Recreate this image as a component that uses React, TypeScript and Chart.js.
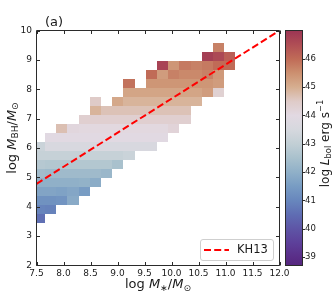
import React, { useEffect, useRef } from 'react';
import { Chart, registerables } from 'chart.js';
Chart.register(...registerables);

const _ = null;

// bin edges of the 2D histogram
const xBinEdges = [7.450, 7.657, 7.865, 8.072, 8.280, 8.487, 8.694, 8.902, 9.109, 9.317, 9.524, 9.731, 9.939, 10.146, 10.354, 10.561, 10.768, 10.976, 11.183];
const yBinEdges = [3.436, 3.743, 4.050, 4.357, 4.664, 4.971, 5.278, 5.585, 5.892, 6.199, 6.506, 6.813, 7.120, 7.427, 7.734, 8.041, 8.348, 8.655, 8.962, 9.269, 9.576];

// mean log L_bol per cell, rows from bottom (low M_BH) to top
const lbolGrid: (number | null)[][] = [
  [40.55],
  [40.95, 40.9],
  [41.25, 41.25, 41.3, 41.85],
  [41.7, 41.7, 41.65, 41.75, 41.5],
  [42.0, 42.0, 42.0, 42.0, 42.05, 41.9],
  [42.35, 42.3, 42.3, 42.3, 42.3, 42.3, 42.2],
  [42.75, 42.7, 42.7, 42.7, 42.7, 42.7, 42.7, 42.5],
  [43.1, 43.1, 43.1, 43.1, 43.1, 43.1, 43.1, 43.1, 43.2],
  [43.2, 43.6, 43.6, 43.6, 43.6, 43.6, 43.6, 43.6, 43.6, 43.6, 43.6],
  [_, 43.95, 43.95, 43.95, 43.95, 43.95, 43.95, 43.95, 43.95, 43.95, 43.95, 43.95],
  [_, _, 44.7, 44.1, 44.05, 44.05, 44.05, 44.05, 44.05, 44.05, 44.05, 44.05, 44.2],
  [_, _, _, _, 44.35, 44.35, 44.35, 44.35, 44.35, 44.35, 44.35, 44.35, 44.35, 44.35],
  [_, _, _, _, _, 44.9, 44.65, 44.65, 44.65, 44.65, 44.65, 44.65, 44.65, 44.65],
  [_, _, _, _, _, 44.5, _, 45.1, 44.9, 44.9, 44.9, 44.9, 44.9, 44.9, 44.9],
  [_, _, _, _, _, _, _, _, 45.15, 45.15, 45.15, 45.15, 45.15, 45.15, 45.15, 45.3, 44.3],
  [_, _, _, _, _, _, _, _, 45.9, _, 45.4, 45.4, 45.4, 45.4, 45.4, 45.4, 45.3],
  [_, _, _, _, _, _, _, _, _, _, 46.0, 45.3, 45.7, 45.6, 45.6, 45.7, 45.35],
  [_, _, _, _, _, _, _, _, _, _, _, 46.7, 45.4, 45.8, 45.7, 45.8, 46.0, 46.0],
  [_, _, _, _, _, _, _, _, _, _, _, _, _, _, _, 46.8, 46.6, 46.2],
  [_, _, _, _, _, _, _, _, _, _, _, _, _, _, _, _, 45.7],
];

const xTickValues = [7.5, 8.0, 8.5, 9.0, 9.5, 10.0, 10.5, 11.0, 11.5, 12.0];
const xTickLabels = ['7.5', '8.0', '8.5', '9.0', '9.5', '10.0', '10.5', '11.0', '11.5', '12.0'];
const yTickValues = [2, 3, 4, 5, 6, 7, 8, 9, 10];
const yTickLabels = ['2', '3', '4', '5', '6', '7', '8', '9', '10'];
const cbTickValues = [39, 40, 41, 42, 43, 44, 45, 46];
const cbTickLabels = ['39', '40', '41', '42', '43', '44', '45', '46'];
const cbMin = 38.7;
const cbMax = 47.0;

// KH13 relation
const kh13X = [7.5, 12.0];
const kh13Y = [4.78, 10.0];
const kh13Label = 'KH13';
const panelLabel = '(a)';

// colormap (twilight_shifted-like)
const cmapStops: [number, string][] = [
  [38.7, '#55267e'], [39.0, '#5a2e88'], [39.5, '#5d409a'], [40.0, '#5e55a6'],
  [40.5, '#5f6db3'], [41.0, '#6887bd'], [41.5, '#789cc3'], [42.0, '#90b0c8'],
  [42.5, '#a9c1cd'], [43.0, '#c2cfd5'], [43.5, '#d6d8de'], [44.0, '#e2d9e2'],
  [44.5, '#dfcbc8'], [45.0, '#d6ae90'], [45.5, '#cc9070'], [46.0, '#c06b57'],
  [46.5, '#b04e55'], [47.0, '#9c3554'],
];

const FONT = '"DejaVu Sans", sans-serif';
const TEXT = '#1a1a1a';
const SPINE = '#2b2b2b';

function hexToRgb(h: string) {
  return [parseInt(h.slice(1, 3), 16), parseInt(h.slice(3, 5), 16), parseInt(h.slice(5, 7), 16)];
}
function cmap(v: number) {
  if (v <= cmapStops[0][0]) return cmapStops[0][1];
  for (let i = 1; i < cmapStops.length; i++) {
    const [v1, c1] = cmapStops[i];
    if (v <= v1) {
      const [v0, c0] = cmapStops[i - 1];
      const t = (v - v0) / (v1 - v0);
      const a = hexToRgb(c0), b = hexToRgb(c1);
      const r = a.map((x, k) => Math.round(x + (b[k] - x) * t));
      return `rgb(${r[0]},${r[1]},${r[2]})`;
    }
  }
  return cmapStops[cmapStops.length - 1][1];
}

type Seg = { t: string; it?: boolean; sc?: number; dy?: number };
function drawRich(ctx: CanvasRenderingContext2D, segs: Seg[], size: number, x: number, y: number, rot: number) {
  ctx.save();
  ctx.translate(x, y);
  ctx.rotate(rot);
  ctx.textBaseline = 'alphabetic';
  ctx.textAlign = 'left';
  ctx.fillStyle = TEXT;
  const fontOf = (s: Seg) => `${s.it ? 'italic ' : ''}${(s.sc || 1) * size}px ${FONT}`;
  let total = 0;
  const ws = segs.map((s) => {
    ctx.font = fontOf(s);
    const w = ctx.measureText(s.t).width;
    total += w;
    return w;
  });
  let cx = -total / 2;
  segs.forEach((s, i) => {
    ctx.font = fontOf(s);
    ctx.fillText(s.t, cx, (s.dy || 0) * size);
    cx += ws[i];
  });
  ctx.restore();
}

const heatmapPlugin = {
  id: 'heatmap',
  beforeDatasetsDraw(chart: any) {
    const { ctx, chartArea, scales } = chart;
    const xs = scales.x, ys = scales.y;
    ctx.save();
    ctx.beginPath();
    ctx.rect(chartArea.left, chartArea.top, chartArea.right - chartArea.left, chartArea.bottom - chartArea.top);
    ctx.clip();
    lbolGrid.forEach((row, j) => {
      row.forEach((v, k) => {
        if (v == null) return;
        const x0 = Math.round(xs.getPixelForValue(xBinEdges[k]));
        const x1 = Math.round(xs.getPixelForValue(xBinEdges[k + 1]));
        const y0 = Math.round(ys.getPixelForValue(yBinEdges[j + 1]));
        const y1 = Math.round(ys.getPixelForValue(yBinEdges[j]));
        ctx.fillStyle = cmap(v);
        ctx.fillRect(x0, y0, x1 - x0, y1 - y0);
      });
    });
    ctx.restore();
  },
};

const framePlugin = {
  id: 'frame',
  afterDatasetsDraw(chart: any) {
    const { ctx, chartArea, scales } = chart;
    const l = Math.floor(chartArea.left) + 0.5;
    const r = Math.floor(chartArea.right) + 0.5;
    const t = Math.floor(chartArea.top) + 0.5;
    const b = Math.floor(chartArea.bottom) + 0.5;
    ctx.save();
    ctx.strokeStyle = SPINE;
    ctx.lineWidth = 1;
    ctx.beginPath();
    ctx.rect(l, t, r - l, b - t);
    const tl = 3.5;
    yTickValues.forEach((v) => {
      const py = Math.round(scales.y.getPixelForValue(v)) + 0.5;
      ctx.moveTo(l, py); ctx.lineTo(l + tl, py);
      ctx.moveTo(r, py); ctx.lineTo(r - tl, py);
    });
    xTickValues.forEach((v) => {
      const px = Math.round(scales.x.getPixelForValue(v)) + 0.5;
      ctx.moveTo(px, b); ctx.lineTo(px, b - tl);
      ctx.moveTo(px, t); ctx.lineTo(px, t + tl);
    });
    ctx.stroke();
    ctx.restore();

    // legend
    const ds = chart.data.datasets[0];
    ctx.save();
    const bx = 200.5, by = 239.5, bw = 73, bh = 21, rad = 2.5;
    ctx.beginPath();
    ctx.moveTo(bx + rad, by);
    ctx.arcTo(bx + bw, by, bx + bw, by + bh, rad);
    ctx.arcTo(bx + bw, by + bh, bx, by + bh, rad);
    ctx.arcTo(bx, by + bh, bx, by, rad);
    ctx.arcTo(bx, by, bx + bw, by, rad);
    ctx.closePath();
    ctx.fillStyle = 'rgba(255,255,255,0.85)';
    ctx.fill();
    ctx.strokeStyle = '#cfcfcf';
    ctx.lineWidth = 1;
    ctx.stroke();
    ctx.beginPath();
    ctx.strokeStyle = ds.borderColor;
    ctx.lineWidth = ds.borderWidth;
    ctx.setLineDash(ds.borderDash);
    ctx.moveTo(204, 250);
    ctx.lineTo(229, 250);
    ctx.stroke();
    ctx.setLineDash([]);
    ctx.fillStyle = TEXT;
    ctx.font = `11.5px ${FONT}`;
    ctx.textBaseline = 'middle';
    ctx.textAlign = 'left';
    ctx.fillText(ds.label, 237, 250);
    ctx.restore();
  },
};

const decorPlugin = {
  id: 'decor',
  afterDraw(chart: any) {
    const { ctx, chartArea, scales } = chart;
    const cb = scales.cb;
    const ytop = cb.getPixelForValue(cbMax);
    const ybot = cb.getPixelForValue(cbMin);
    const cx0 = 286, cx1 = 302;
    ctx.save();
    const g = ctx.createLinearGradient(0, ybot, 0, ytop);
    cmapStops.forEach(([v, c]) => g.addColorStop((v - cbMin) / (cbMax - cbMin), c));
    ctx.fillStyle = g;
    ctx.fillRect(cx0, ytop, cx1 - cx0, ybot - ytop);
    ctx.strokeStyle = SPINE;
    ctx.lineWidth = 1;
    ctx.strokeRect(cx0 - 0.5, Math.floor(ytop) + 0.5, cx1 - cx0 + 1, Math.floor(ybot) - Math.floor(ytop));
    ctx.beginPath();
    cbTickValues.forEach((v) => {
      const py = Math.round(cb.getPixelForValue(v)) + 0.5;
      ctx.moveTo(cx1 + 0.5, py);
      ctx.lineTo(cx1 + 3, py);
    });
    ctx.stroke();

    // panel label
    ctx.fillStyle = TEXT;
    ctx.font = `13px ${FONT}`;
    ctx.textAlign = 'left';
    ctx.textBaseline = 'alphabetic';
    ctx.fillText(panelLabel, 45, 26);
    ctx.restore();

    // axis titles
    const midX = (chartArea.left + chartArea.right) / 2;
    drawRich(ctx, [
      { t: 'log ' }, { t: 'M', it: true }, { t: '∗', sc: 0.7, dy: 0.22 }, { t: '/' },
      { t: 'M', it: true }, { t: '⊙', sc: 0.7, dy: 0.22 },
    ], 13, midX, 288, 0);
    drawRich(ctx, [
      { t: 'log ' }, { t: 'M', it: true }, { t: 'BH', sc: 0.7, dy: 0.22 }, { t: '/' },
      { t: 'M', it: true }, { t: '⊙', sc: 0.7, dy: 0.22 },
    ], 13, 15.5, 138, -Math.PI / 2);
    drawRich(ctx, [
      { t: 'log ' }, { t: 'L', it: true }, { t: 'bol', sc: 0.7, dy: 0.22 }, { t: ' erg s' },
      { t: '−1', sc: 0.7, dy: -0.42 },
    ], 12, 328.5, 143.5, -Math.PI / 2);
  },
};

export default function App() {
  const ref = useRef<HTMLCanvasElement | null>(null);
  useEffect(() => {
    if (!ref.current) return;
    const chart = new Chart(ref.current, {
      type: 'scatter',
      data: {
        datasets: [
          {
            label: kh13Label,
            data: kh13X.map((x, i) => ({ x, y: kh13Y[i] })),
            showLine: true,
            borderColor: '#ff0000',
            borderWidth: 2,
            borderDash: [7, 3.2],
            pointRadius: 0,
            fill: false,
            xAxisID: 'x',
            yAxisID: 'y',
          } as any,
        ],
      },
      options: {
        animation: false,
        responsive: false,
        devicePixelRatio: 1,
        layout: { padding: { top: 5.3, right: 0, bottom: 0, left: 0 } },
        plugins: { legend: { display: false }, tooltip: { enabled: false } },
        scales: {
          x: {
            type: 'linear',
            position: 'bottom',
            min: 7.5,
            max: 12,
            grid: { display: false, drawTicks: false },
            border: { display: false },
            afterBuildTicks: (s: any) => { s.ticks = xTickValues.map((v) => ({ value: v })); },
            afterFit: (s: any) => { s.height = 30; },
            ticks: {
              autoSkip: false, maxRotation: 0, minRotation: 0, padding: 3,
              color: TEXT, font: { family: FONT, size: 9 },
              callback: (_v: any, i: number) => xTickLabels[i],
            },
          },
          y: {
            type: 'linear',
            position: 'left',
            min: 2,
            max: 10,
            grid: { display: false, drawTicks: false },
            border: { display: false },
            afterBuildTicks: (s: any) => { s.ticks = yTickValues.map((v) => ({ value: v })); },
            afterFit: (s: any) => { s.width = 36.5; },
            ticks: {
              autoSkip: false, padding: 4.5,
              color: TEXT, font: { family: FONT, size: 9 },
              callback: (_v: any, i: number) => yTickLabels[i],
            },
          },
          cb: {
            type: 'linear',
            position: 'right',
            min: cbMin,
            max: cbMax,
            grid: { display: false, drawTicks: false },
            border: { display: false },
            afterBuildTicks: (s: any) => { s.ticks = cbTickValues.map((v) => ({ value: v })); },
            afterFit: (s: any) => { s.width = 52.5; },
            ticks: {
              autoSkip: false, padding: 25.5,
              color: TEXT, font: { family: FONT, size: 8.5 },
              callback: (_v: any, i: number) => cbTickLabels[i],
            },
          },
        } as any,
      },
      plugins: [heatmapPlugin, framePlugin, decorPlugin],
    });
    return () => chart.destroy();
  }, []);
  return (
    <div style={{ position: 'absolute', left: 0, top: 0, width: 332, height: 296, background: '#fff' }}>
      <canvas ref={ref} width={332} height={296} style={{ display: 'block', width: 332, height: 296 }} />
    </div>
  );
}
